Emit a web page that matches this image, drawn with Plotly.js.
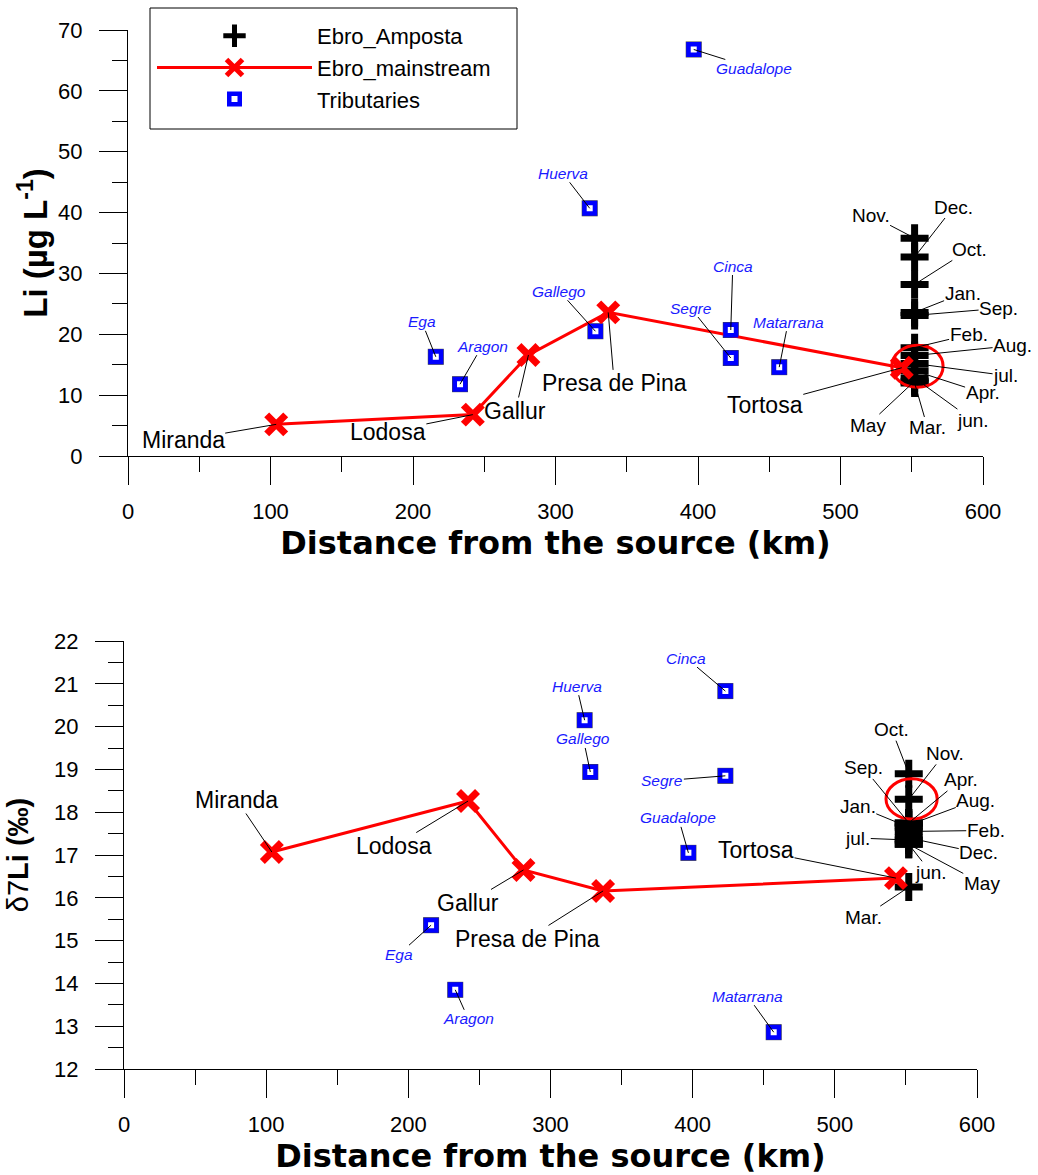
<!DOCTYPE html>
<html><head><meta charset="utf-8">
<script src="https://cdn.plot.ly/plotly-3.0.1.min.js"></script>
<style>html,body{margin:0;padding:0;background:#fff}</style>
</head><body><div id="chart" style="width:1038px;height:1175px"></div>
<script>
// ---------------- data ----------------
const mainSites = ['Miranda', 'Lodosa', 'Gallur', 'Presa de Pina', 'Tortosa'];
const mainKm = [104, 242, 281, 337, 543];
const mainLi = [5.2, 6.8, 16.6, 23.6, 14.5];
const mainD7Li = [17.07, 18.26, 16.65, 16.16, 16.46];

const tribNames = ['Ega', 'Aragon', 'Huerva', 'Gallego', 'Guadalope', 'Cinca', 'Segre', 'Matarrana'];
const tribKm = [216, 233, 324, 328, 397, 423, 423, 457];
const tribLi = [16.3, 11.8, 40.7, 20.5, 66.8, 20.7, 16.1, 14.6];
const tribD7Li = [15.36, 13.85, 20.15, 18.94, 17.05, 20.83, 18.85, 12.86];

const months = ['Jan.', 'Feb.', 'Mar.', 'Apr.', 'May', 'jun.', 'jul.', 'Aug.', 'Sep.', 'Oct.', 'Nov.', 'Dec.'];
const ampostaKm = 552;
const ampostaLi = [23.6, 17.8, 12.0, 14.0, 12.3, 12.8, 15.2, 16.5, 23.1, 28.2, 35.8, 32.7];
const ampostaD7Li = [17.65, 17.55, 16.25, 17.75, 17.25, 17.25, 17.35, 17.7, 17.75, 18.9, 18.3, 17.4];

const xTickVals = [0, 100, 200, 300, 400, 500, 600];
const liTickVals = [0, 10, 20, 30, 40, 50, 60, 70];
const d7TickVals = [12, 13, 14, 15, 16, 17, 18, 19, 20, 21, 22];

// highlighted (circled) region around Amposta/Tortosa
const circleTop = {x: [536, 572], y: [11.3, 18.2]};
const circleBot = {x: [536, 572], y: [17.84, 18.78]};

// ---------------- label placement (pixel offsets, layout only) ----------------
const offMainTop = [[-93, 16], [-85, 17], [-13, 56], [6, 71], [-137, 37]];
const offMainBot = [[-35, -52], [-74, 45], [-55, 33], [-76, 48], [-140, -28]];
const offTribTop = [[-14, -35], [22, -38], [-27, -35], [-36, -40], [60, 19], [2, -64], [-40, -50], [9, -45]];
const offTribBot = [[-32, 29], [13, 29], [-8, -34], [-7, -33], [-10, -35], [-39, -33], [-63, 5], [-26, -36]];
const offMonTop = [[48, -19], [54, -13], [13, 45], [68, 22], [-47, 44], [58, 42], [91, 12], [98, -10], [84, -7], [55, -35], [-44, -23], [39, -50]];
const offMonBot = [[-51, -21], [77, -1], [-45, 30], [52, -43], [73, 39], [22, 28], [-51, -2], [67, -25], [-45, -55], [-17, -44], [36, -46], [70, 15]];

// ---------------- styles ----------------
const ARIAL = 'Liberation Sans, Arial, sans-serif';
const TITLEF = 'DejaVu Sans, Verdana, sans-serif';
const RED = '#ff0000';
const BLUE = '#0000ff';

const crossMarker = {symbol: 'cross-thin', size: 20, color: '#000', line: {color: '#000', width: 7}};
const xMarker = {symbol: 'x-thin', size: 19, color: RED, line: {color: RED, width: 7}};
const sqMarker = {symbol: 'square', size: 10.5, color: '#fff', line: {color: BLUE, width: 4.5}};
const sqBorder = {symbol: 'square', size: 16, color: '#444', line: {width: 0}};

function traces(xa, ya, show) {
  const yv = (a, b) => show ? a : b;
  return [
    {x: tribKm, y: yv(tribLi, tribD7Li), xaxis: xa, yaxis: ya, type: 'scatter', mode: 'markers',
     marker: sqBorder, showlegend: false, hoverinfo: 'skip'},
    {x: months.map(() => ampostaKm), y: yv(ampostaLi, ampostaD7Li), xaxis: xa, yaxis: ya, type: 'scatter',
     mode: 'markers', name: 'Ebro_Amposta', marker: crossMarker, showlegend: show, text: months},
    {x: mainKm, y: yv(mainLi, mainD7Li), xaxis: xa, yaxis: ya, type: 'scatter', mode: 'lines+markers',
     name: 'Ebro_mainstream', line: {color: RED, width: 3}, marker: xMarker, showlegend: show, text: mainSites},
    {x: tribKm, y: yv(tribLi, tribD7Li), xaxis: xa, yaxis: ya, type: 'scatter', mode: 'markers',
     name: 'Tributaries', marker: sqMarker, showlegend: show, text: tribNames}
  ];
}

const data = [].concat(traces('x', 'y', true), traces('x2', 'y2', false));

function ann(xr, yr, xs, ys, labels, offs, font) {
  return labels.map((t, i) => ({
    xref: xr, yref: yr, x: Array.isArray(xs) ? xs[i] : xs, y: ys[i], text: t,
    showarrow: true, arrowhead: 0, arrowwidth: 1, arrowcolor: '#000', standoff: 0, startstandoff: 0,
    ax: offs[i][0], ay: offs[i][1], font: font, borderpad: 0
  }));
}

const fSite = {family: ARIAL, size: 23, color: '#000'};
const fMon = {family: ARIAL, size: 19, color: '#000'};
const fTrib = {family: ARIAL, size: 15.5, color: '#1a1aff', style: 'italic'};

const annotations = [].concat(
  ann('x', 'y', mainKm, mainLi, mainSites, offMainTop, fSite),
  ann('x', 'y', tribKm, tribLi, tribNames, offTribTop, fTrib),
  ann('x', 'y', ampostaKm, ampostaLi, months, offMonTop, fMon),
  ann('x2', 'y2', mainKm, mainD7Li, mainSites, offMainBot, fSite),
  ann('x2', 'y2', tribKm, tribD7Li, tribNames, offTribBot, fTrib),
  ann('x2', 'y2', ampostaKm, ampostaD7Li, months, offMonBot, fMon)
);

function xAxis(domain, anchor) {
  return {
    domain: domain, anchor: anchor, range: [0, 600], tickvals: xTickVals, ticktext: xTickVals.map(String),
    ticks: 'outside', ticklen: 28, tickwidth: 1, tickcolor: '#000', ticklabelstandoff: 8,
    minor: {dtick: 50, ticks: 'outside', ticklen: 15, tickwidth: 1, tickcolor: '#000', showgrid: false},
    showline: true, linecolor: '#000', linewidth: 1, showgrid: false, zeroline: false,
    tickfont: {family: ARIAL, size: 22, color: '#000'},
    title: {text: '<b>Distance from the source (km)</b>', font: {family: TITLEF, size: 32, color: '#000'}, standoff: 6}
  };
}
function yAxis(domain, anchor, range, vals, minorD, title, tsize, standoff) {
  return {
    domain: domain, anchor: anchor, range: range, tickvals: vals, ticktext: vals.map(String),
    ticks: 'outside', ticklen: 28, tickwidth: 1, tickcolor: '#000', ticklabelstandoff: 12,
    minor: {dtick: minorD, ticks: 'outside', ticklen: 15, tickwidth: 1, tickcolor: '#000', showgrid: false},
    showline: true, linecolor: '#000', linewidth: 1, showgrid: false, zeroline: false,
    tickfont: {family: ARIAL, size: 22, color: '#000'},
    title: {text: title, font: {family: ARIAL, size: tsize, color: '#000'}, standoff: standoff}
  };
}

const W = 1038, H = 1175;
const layout = {
  width: W, height: H, margin: {l: 0, r: 0, t: 0, b: 0}, paper_bgcolor: '#fff', plot_bgcolor: '#fff',
  showlegend: true,
  legend: {x: 152 / W, y: 1 - 15 / H, xanchor: 'left', yanchor: 'top', borderwidth: 0,
           bgcolor: 'rgba(0,0,0,0)', font: {family: ARIAL, size: 22, color: '#000'}, itemwidth: 155, tracegroupgap: 0},
  xaxis: xAxis([128 / W, 983 / W], 'y'),
  yaxis: yAxis([1 - 456 / H, 1 - 30 / H], 'x', [0, 70], liTickVals, 5, '<b>Li (µg L<sup>-1</sup>)</b>', 33, 0),
  xaxis2: xAxis([124 / W, 977 / W], 'y2'),
  yaxis2: yAxis([1 - 1069 / H, 1 - 641 / H], 'x2', [12, 22], d7TickVals, 0.5, 'δ7<b>Li (‰)</b>', 29, 16),
  shapes: [
    {type: 'rect', xref: 'paper', yref: 'paper', x0: 150 / W, x1: 517 / W, y0: 1 - 129 / H, y1: 1 - 8 / H,
     line: {color: '#000', width: 1}, fillcolor: 'rgba(0,0,0,0)', layer: 'above'},
    {type: 'circle', xref: 'x', yref: 'y', x0: circleTop.x[0], x1: circleTop.x[1], y0: circleTop.y[0], y1: circleTop.y[1],
     line: {color: RED, width: 3}, layer: 'above'},
    {type: 'circle', xref: 'x2', yref: 'y2', x0: circleBot.x[0], x1: circleBot.x[1], y0: circleBot.y[0], y1: circleBot.y[1],
     line: {color: RED, width: 3}, layer: 'above'}
  ],
  annotations: annotations
};

Plotly.newPlot('chart', data, layout, {displayModeBar: false, staticPlot: true});
</script></body></html>
